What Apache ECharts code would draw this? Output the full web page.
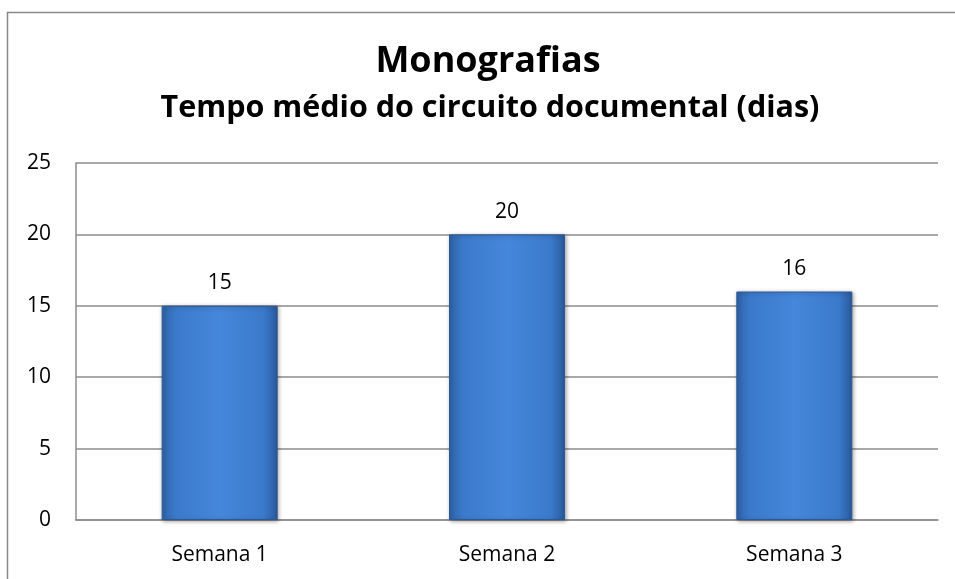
<!DOCTYPE html>
<html lang="pt">
<head>
    <meta charset="UTF-8">
    <title>Monografias</title>
    <style>
        body {
            margin: 0;
            background: #fff;
        }
        #chart {
            width: 955px;
            height: 579px;
        }
    </style>
</head>
<body>
<div id="chart"></div>
<script src="https://cdn.jsdelivr.net/npm/echarts@6/dist/echarts.min.js"></script>
<script>
    // dados do gráfico
    const semanas = ['Semana 1', 'Semana 2', 'Semana 3'];
    const tempoMedio = [15, 20, 16];
    const tituloPrincipal = 'Monografias';
    const subtitulo = 'Tempo médio do circuito documental (dias)';

    const fonte = '"Open Sans", "Noto Sans", sans-serif';
    const chart = echarts.init(document.getElementById('chart'));

    // gradiente das barras (estilo Excel)
    const corBarra = new echarts.graphic.LinearGradient(0, 0, 1, 0, [
        { offset: 0, color: '#2f63a8' },
        { offset: 0.12, color: '#3b7acb' },
        { offset: 0.5, color: '#4587da' },
        { offset: 0.88, color: '#3b7acb' },
        { offset: 1, color: '#2a5a9c' }
    ]);

    chart.setOption({
        animation: false,
        backgroundColor: '#fff',
        // títulos centrados na área do gráfico original (um pouco à direita)
        graphic: [{
            type: 'rect',
            shape: { x: 7.5, y: 12.5, width: 960, height: 600 },
            style: { fill: 'none', stroke: '#888', lineWidth: 1.5 },
            silent: true
        }, {
            type: 'text',
            x: 488,
            y: 62,
            style: {
                text: tituloPrincipal,
                align: 'center',
                verticalAlign: 'middle',
                font: 'bold 36px ' + fonte,
                fill: '#000'
            }
        }, {
            type: 'text',
            x: 490,
            y: 108,
            style: {
                text: subtitulo,
                align: 'center',
                verticalAlign: 'middle',
                font: 'bold 30.5px ' + fonte,
                fill: '#000'
            }
        }],
        grid: {
            left: 76,
            right: 17,
            top: 163,
            bottom: 59
        },
        xAxis: {
            type: 'category',
            data: semanas,
            axisTick: { show: false },
            axisLine: { lineStyle: { color: '#8c8c8c', width: 1.5 } },
            axisLabel: {
                fontFamily: fonte,
                fontSize: 21,
                color: '#000',
                margin: 25
            }
        },
        yAxis: {
            type: 'value',
            min: 0,
            max: 25,
            interval: 5,
            axisLine: { show: true, lineStyle: { color: '#8c8c8c', width: 1.5 } },
            axisTick: { show: false },
            splitLine: { lineStyle: { color: '#8c8c8c', width: 1.5 } },
            axisLabel: {
                fontFamily: fonte,
                fontSize: 21,
                color: '#000',
                margin: 25
            }
        },
        series: [{
            type: 'bar',
            data: tempoMedio,
            barWidth: 116,
            itemStyle: {
                color: corBarra,
                borderColor: '#2b5896',
                borderWidth: 1,
                shadowColor: 'rgba(0,0,0,0.35)',
                shadowBlur: 4,
                shadowOffsetX: 1,
                shadowOffsetY: 1
            },
            label: {
                show: true,
                position: 'top',
                distance: 12,
                fontFamily: fonte,
                fontSize: 21,
                color: '#000'
            }
        }]
    });
</script>
</body>
</html>
